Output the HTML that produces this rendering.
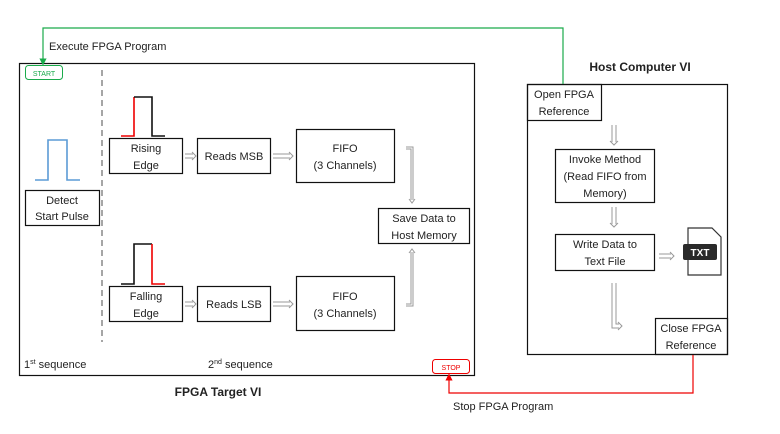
<!DOCTYPE html>
<html><head><meta charset="utf-8"><style>
body{margin:0;background:#fff}
svg text{font-family:"Liberation Sans",sans-serif;font-size:11px;fill:#222}
</style></head><body>
<svg width="780" height="429" viewBox="0 0 780 429" xmlns="http://www.w3.org/2000/svg">
<defs>
<marker id="ag" markerWidth="6" markerHeight="6" refX="3" refY="3" orient="auto"><path d="M0,0 L6,3 L0,6z" fill="#1aab4b"/></marker>
<marker id="ar" markerWidth="6" markerHeight="6" refX="3" refY="3" orient="auto"><path d="M0,0 L6,3 L0,6z" fill="#e00"/></marker>
</defs>
<g fill="none" stroke="#111" stroke-width="1.2">
<rect x="19.5" y="63.5" width="455" height="312"/>
<rect x="527.5" y="84.5" width="200" height="270"/>
<rect x="25.5" y="190.5" width="74" height="35"/>
<rect x="109.5" y="138.5" width="73" height="35"/>
<rect x="197.5" y="138.5" width="73" height="35"/>
<rect x="296.5" y="129.5" width="98" height="53"/>
<rect x="378.5" y="208.5" width="91" height="35"/>
<rect x="109.5" y="286.5" width="73" height="35"/>
<rect x="197.5" y="286.5" width="73" height="35"/>
<rect x="296.5" y="276.5" width="98" height="54"/>
<rect x="527.5" y="84.5" width="74" height="36"/>
<rect x="555.5" y="149.5" width="99" height="53"/>
<rect x="555.5" y="234.5" width="99" height="36"/>
<rect x="655.5" y="318.5" width="72" height="36"/>
</g>
<line x1="102" y1="70" x2="102" y2="342" stroke="#777" stroke-width="1.3" stroke-dasharray="6,4"/>
<!-- green -->
<polyline points="563,84 563,28 43,28 43,62" fill="none" stroke="#1aab4b" stroke-width="1.2" marker-end="url(#ag)"/>
<rect x="25.5" y="65.5" width="37" height="14" rx="3" fill="none" stroke="#1aab4b"/>
<text x="44" y="76" text-anchor="middle" style="font-size:7px;fill:#1aab4b">START</text>
<!-- red -->
<polyline points="693,355 693,393 449,393 449,377" fill="none" stroke="#e00" stroke-width="1.2" marker-end="url(#ar)"/>
<rect x="432.5" y="359.5" width="37" height="14" rx="3" fill="none" stroke="#e00"/>
<text x="451" y="370" text-anchor="middle" style="font-size:7px;fill:#e00">STOP</text>
<!-- pulses -->
<polyline points="35,180 48,180 48,140 67,140 67,180 80,180" fill="none" stroke="#5b9bd5" stroke-width="1.6"/>
<polyline points="121,136 134,136 134,97" fill="none" stroke="#e00" stroke-width="1.6"/>
<polyline points="134,97 152,97 152,136 165,136" fill="none" stroke="#111" stroke-width="1.6"/>
<polyline points="121,284 134,284 134,244 152,244" fill="none" stroke="#111" stroke-width="1.6"/>
<polyline points="152,244 152,284 165,284" fill="none" stroke="#e00" stroke-width="1.6"/>
<!-- hollow arrows -->
<g fill="none" stroke="#999" stroke-width="1">
<path d="M185,154 h8 M185,158 h8 M192,152 l4,4 l-4,4"/>
<path d="M273,154 h17 M273,158 h17 M289,152 l4,4 l-4,4"/>
<path d="M185,302 h8 M185,306 h8 M192,300 l4,4 l-4,4"/>
<path d="M273,302 h17 M273,306 h17 M289,300 l4,4 l-4,4"/>
<path d="M406,147 h7 v53 M406,149 h5 v51 M409,199 l3,4 l3,-4"/>
<path d="M406,306 h7 v-54 M406,304 h5 v-52 M409,253 l3,-4 l3,4"/>
<path d="M612,125 v17 M616,125 v17 M610,141 l4,4 l4,-4"/>
<path d="M612,207 v17 M616,207 v17 M610,223 l4,4 l4,-4"/>
<path d="M612,283 v45 h7 M616,283 v41 h3 M618,322 l4,4 l-4,4"/>
<path d="M659,254 h12 M659,258 h12 M670,252 l4,4 l-4,4"/>
</g>
<!-- TXT icon -->
<path d="M688,228 h24 l9,9 v38 h-33z" fill="#fff" stroke="#333" stroke-width="1.2"/>
<rect x="683" y="244" width="34" height="16" rx="2" fill="#2a2a2a"/>
<text x="700" y="256" text-anchor="middle" style="font-size:10px;font-weight:bold;fill:#fff">TXT</text>
<!-- labels -->
<text x="49" y="50">Execute FPGA Program</text>
<text x="453" y="410">Stop FPGA Program</text>
<text x="640" y="71" text-anchor="middle" style="font-weight:bold;font-size:12px">Host Computer VI</text>
<text x="218" y="396" text-anchor="middle" style="font-weight:bold;font-size:12px">FPGA Target VI</text>
<g text-anchor="middle">
<text x="62" y="204">Detect</text><text x="62" y="220">Start Pulse</text>
<text x="146" y="152">Rising</text><text x="146" y="169">Edge</text>
<text x="234" y="160">Reads MSB</text>
<text x="345" y="152">FIFO</text><text x="345" y="169">(3 Channels)</text>
<text x="424" y="222">Save Data to</text><text x="424" y="239">Host Memory</text>
<text x="146" y="300">Falling</text><text x="146" y="317">Edge</text>
<text x="234" y="308">Reads LSB</text>
<text x="345" y="300">FIFO</text><text x="345" y="317">(3 Channels)</text>
<text x="564" y="98">Open FPGA</text><text x="564" y="115">Reference</text>
<text x="605" y="163">Invoke Method</text><text x="605" y="180">(Read FIFO from</text><text x="605" y="197">Memory)</text>
<text x="605" y="248">Write Data to</text><text x="605" y="265">Text File</text>
<text x="691" y="332">Close FPGA</text><text x="691" y="349">Reference</text>
</g>
<text x="24" y="368">1<tspan dy="-4" style="font-size:7px">st</tspan><tspan dy="4"> sequence</tspan></text>
<text x="208" y="368">2<tspan dy="-4" style="font-size:7px">nd</tspan><tspan dy="4"> sequence</tspan></text>
</svg>
</body></html>
